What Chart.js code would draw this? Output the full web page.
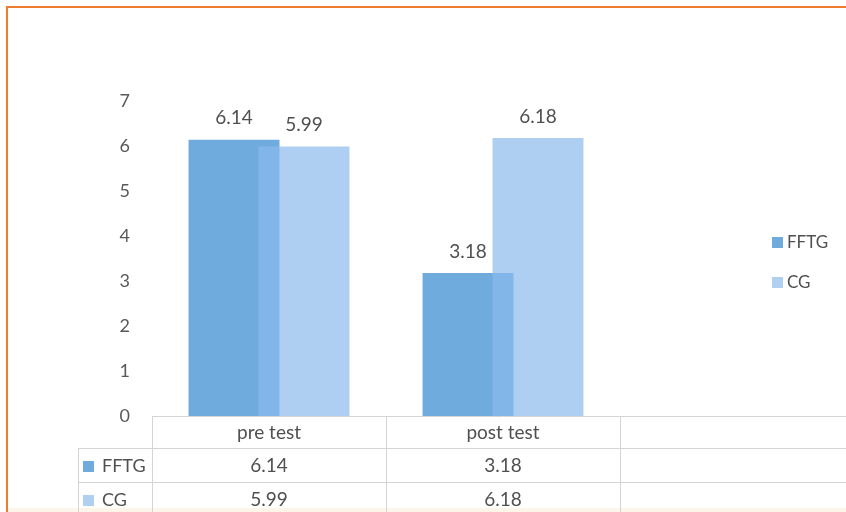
<!DOCTYPE html>
<html>
<head>
<meta charset="utf-8">
<script src="https://cdn.jsdelivr.net/npm/chart.js@4.4.1/dist/chart.umd.min.js"></script>
<style>
  html, body { margin: 0; padding: 0; width: 846px; height: 512px; overflow: hidden; background: #ffffff; }
  #frame { position: absolute; left: 6px; top: 6px; width: 900px; height: 600px;
           border-left: 2px solid #ED7D31; border-top: 2px solid #ED7D31; box-sizing: border-box; }
  #foot { position: absolute; left: 8px; top: 508px; width: 900px; height: 4px; background: #FDF5EA; }
  #wrap { position: absolute; left: 0; top: 0; width: 880px; height: 560px; }
</style>
</head>
<body>
<div id="frame"></div>
<div id="foot"></div>
<div id="wrap"><canvas id="c" width="880" height="560"></canvas></div>
<script>
// Test phases (the third column of the data table is left empty)
const categories = ['pre test', 'post test', ''];
const seriesNames = ['FFTG', 'CG'];
const fftgValues = [6.14, 3.18, null];
const cgValues = [5.99, 6.18, null];
const yTicks = [0, 1, 2, 3, 4, 5, 6, 7];

const FONT = 'Lato, "Open Sans", sans-serif';
const TEXT = '#505050';
const LINE = '#D4D4D4';
const fftgColor = '#6FACDD';
const cgColor = 'rgba(140,186,236,0.7)';
const swatches = ['#6FACDD', '#B0D0F2'];

// Draw the series first-to-last so the CG bars sit over the FFTG bars
const drawOrder = {
  id: 'drawOrder',
  beforeDatasetsDraw(chart) {
    for (let i = 0; i < chart.data.datasets.length; i++) {
      chart.getDatasetMeta(i).controller.draw();
    }
    return false;
  }
};

// Value labels above each bar
const valueLabels = {
  id: 'valueLabels',
  afterDraw(chart) {
    const ctx = chart.ctx;
    ctx.save();
    ctx.font = '19px ' + FONT;
    ctx.fillStyle = TEXT;
    ctx.textAlign = 'center';
    ctx.textBaseline = 'bottom';
    chart.data.datasets.forEach((ds, di) => {
      chart.getDatasetMeta(di).data.forEach((bar, i) => {
        const v = ds.data[i];
        if (v == null) return;
        ctx.fillText(v.toFixed(2), bar.x, bar.y - 12);
      });
    });
    ctx.restore();
  }
};

// Data table under the plot plus the legend on the right
const dataTable = {
  id: 'dataTable',
  afterDraw(chart) {
    const ctx = chart.ctx;
    const xs = chart.scales.x;
    const area = chart.chartArea;
    const n = categories.length;
    const colW = (area.right - area.left) / n;
    const top = area.bottom;
    const rowH = [32, 34, 34];
    const rowY = [top, top + rowH[0], top + rowH[0] + rowH[1], top + rowH[0] + rowH[1] + rowH[2]];
    const keyLeft = 78;

    ctx.save();
    ctx.strokeStyle = LINE;
    ctx.lineWidth = 1;
    ctx.beginPath();
    // vertical lines of the value columns
    for (let i = 0; i <= n; i++) {
      const x = Math.round(area.left + i * colW) + 0.5;
      ctx.moveTo(x, top);
      ctx.lineTo(x, rowY[3] + 20);
    }
    // left edge of the series key column
    ctx.moveTo(keyLeft + 0.5, rowY[1]);
    ctx.lineTo(keyLeft + 0.5, rowY[3] + 20);
    // horizontal row separators
    for (let r = 1; r <= 3; r++) {
      const y = Math.round(rowY[r]) + 0.5;
      ctx.moveTo(keyLeft, y);
      ctx.lineTo(area.right, y);
    }
    ctx.stroke();

    ctx.font = '19px ' + FONT;
    ctx.fillStyle = TEXT;
    ctx.textBaseline = 'middle';
    ctx.textAlign = 'center';
    categories.forEach((c, i) => {
      const cx = xs.getPixelForValue(i);
      ctx.fillText(c, cx, (rowY[0] + rowY[1]) / 2 + 1);
      const a = fftgValues[i], b = cgValues[i];
      if (a != null) ctx.fillText(a.toFixed(2), cx, (rowY[1] + rowY[2]) / 2 + 1);
      if (b != null) ctx.fillText(b.toFixed(2), cx, (rowY[2] + rowY[3]) / 2 + 1);
    });

    // series keys in the table
    ctx.textAlign = 'left';
    ctx.font = '18px ' + FONT;
    seriesNames.forEach((name, k) => {
      const cy = (rowY[k + 1] + rowY[k + 2]) / 2 + 1;
      ctx.fillStyle = swatches[k];
      ctx.fillRect(83, cy - 5, 11, 11);
      ctx.fillStyle = TEXT;
      ctx.fillText(name, 102, cy);
    });

    // legend
    const legendY = [242, 282];
    seriesNames.forEach((name, k) => {
      ctx.fillStyle = swatches[k];
      ctx.fillRect(772, legendY[k] - 5, 11, 11);
      ctx.fillStyle = TEXT;
      ctx.font = '17px ' + FONT;
      ctx.fillText(name, 787, legendY[k] + 1);
    });
    ctx.restore();
  }
};

new Chart(document.getElementById('c'), {
  type: 'bar',
  data: {
    labels: categories,
    datasets: [
      { label: seriesNames[0], data: fftgValues, backgroundColor: fftgColor,
        categoryPercentage: 0.598, barPercentage: 1.3 },
      { label: seriesNames[1], data: cgValues, backgroundColor: cgColor,
        categoryPercentage: 0.598, barPercentage: 1.3 }
    ]
  },
  options: {
    responsive: false,
    animation: false,
    layout: { padding: { left: 0, top: 101, right: 26, bottom: 144 } },
    plugins: { legend: { display: false }, tooltip: { enabled: false } },
    scales: {
      x: {
        grid: { display: false, drawTicks: false },
        border: { display: true, color: LINE },
        ticks: { display: false },
        afterFit(s) { s.height = 0; }
      },
      y: {
        min: 0, max: 7,
        afterBuildTicks(s) { s.ticks = yTicks.map(v => ({ value: v })); },
        grid: { display: false, drawTicks: false },
        border: { display: false },
        ticks: { font: { family: FONT, size: 18 }, color: '#595959', padding: 22 },
        afterFit(s) { s.width = 152; }
      }
    }
  },
  plugins: [drawOrder, valueLabels, dataTable]
});
</script>
</body>
</html>
